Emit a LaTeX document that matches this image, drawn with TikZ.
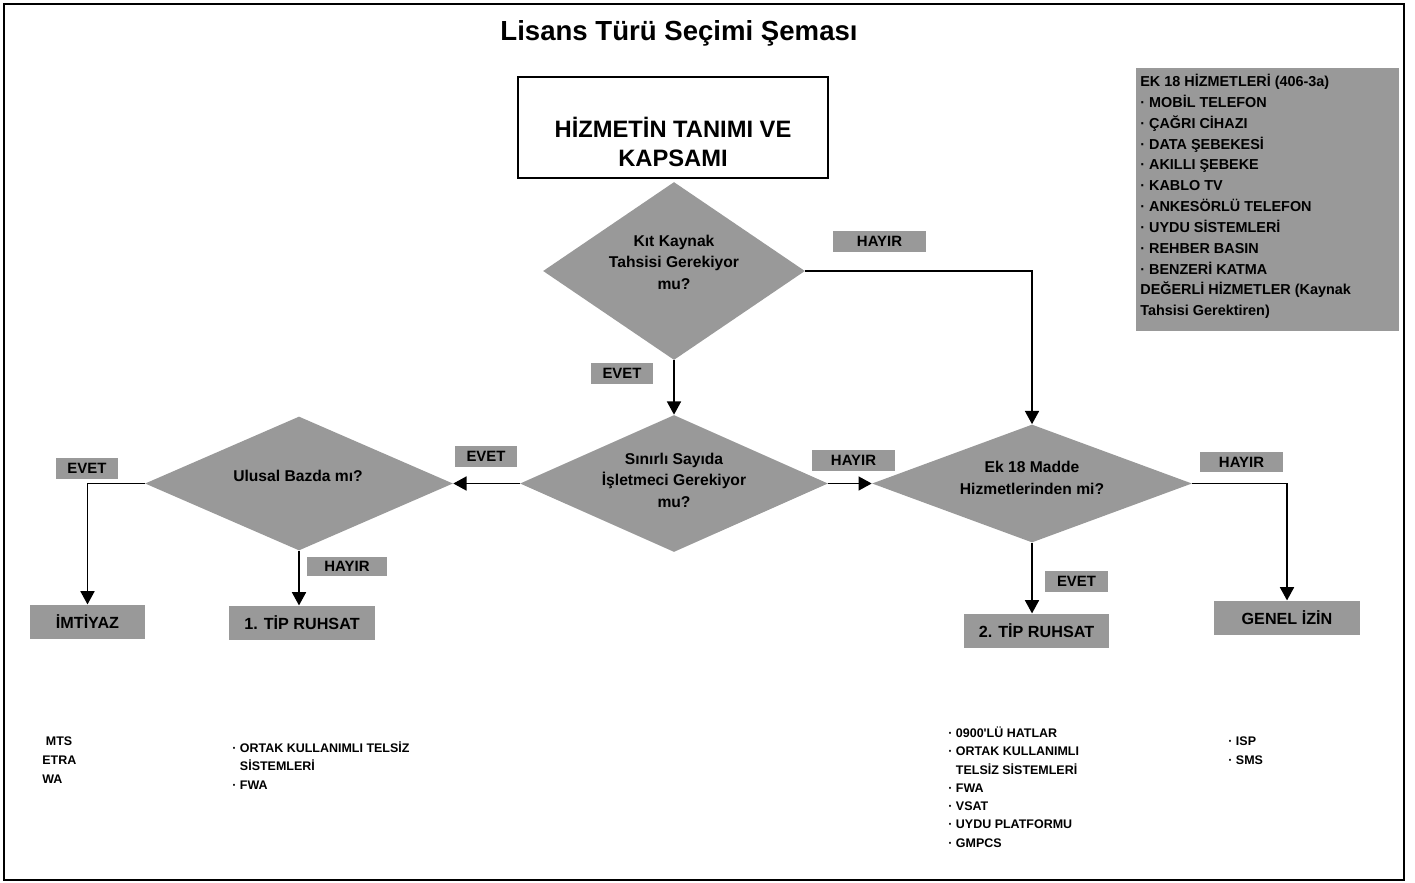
\documentclass[tikz,border=0pt]{standalone}
\usepackage{fontspec}
\setmainfont{Liberation Sans}
\usetikzlibrary{shapes.geometric,arrows.meta}
\definecolor{boxgray}{HTML}{999999}
\tikzset{
  decision/.style={diamond, fill=boxgray, inner sep=0pt},
  question/.style={align=center, inner sep=0pt, font=\fontsize{8.9}{12.2}\selectfont\bfseries},
  answer/.style={fill=boxgray, inner sep=0pt, minimum height=0.42cm, font=\fontsize{8.5}{10}\selectfont\bfseries},
  result/.style={fill=boxgray, inner sep=0pt, minimum height=0.69cm, font=\fontsize{9.2}{11}\selectfont\bfseries},
  itemlist/.style={anchor=north west, align=left, inner sep=0pt, font=\fontsize{7.1}{10.4}\selectfont\bfseries},
  flow/.style={line width=0.75pt},
  flowarrow/.style={flow, -{Triangle[width=8pt,length=7.5pt]}},
}
\begin{document}
\begin{tikzpicture}[x=0.02cm, y=-0.02cm]
  \useasboundingbox (0, 0) rectangle (1415, 882);
  \draw[line width=1.1pt] (4, 4) rectangle (1404, 880);

  \node[font=\fontsize{15.7}{18}\selectfont\bfseries] (title) at (679, 33) {Lisans Türü Seçimi Şeması};

  \node[draw, line width=0.8pt, minimum width=6.2cm, minimum height=2.02cm] (scope) at (673, 127.5) {};
  \node[align=center, inner sep=0pt, font=\fontsize{13.5}{17}\selectfont\bfseries] (scopetext) at (673, 142) {HİZMETİN TANIMI VE\\KAPSAMI};

  \node[decision, minimum width=5.24cm, minimum height=3.56cm] (kit) at (674, 271) {};
  \node[question] (kittext) at (674, 262) {Kıt Kaynak\\Tahsisi Gerekiyor\\mu?};
  \node[decision, minimum width=6.16cm, minimum height=2.74cm] (sinirli) at (674, 483.5) {};
  \node[question] (sinirlitext) at (674, 480) {Sınırlı Sayıda\\İşletmeci Gerekiyor\\mu?};
  \node[decision, minimum width=6.4cm, minimum height=2.36cm] (ek) at (1032, 483.5) {};
  \node[question] (ektext) at (1032, 478) {Ek 18 Madde\\Hizmetlerinden mi?};
  \node[decision, minimum width=6.16cm, minimum height=2.68cm] (ulusal) at (299, 483.5) {};
  \node[question] (ulusaltext) at (298, 476) {Ulusal Bazda mı?};

  \node[answer, minimum width=1.86cm] (kitno) at (879.5, 241.5) {HAYIR};
  \node[answer, minimum width=1.24cm] (kityes) at (622, 373) {EVET};
  \node[answer, minimum width=1.24cm] (sinirliyes) at (486, 456) {EVET};
  \node[answer, minimum width=1.66cm] (sinirlino) at (853.5, 460.5) {HAYIR};
  \node[answer, minimum width=1.24cm] (ulusalyes) at (87, 468.5) {EVET};
  \node[answer, minimum width=1.62cm, minimum height=0.38cm] (ulusalno) at (347, 566) {HAYIR};
  \node[answer, minimum width=1.26cm] (ekyes) at (1076.5, 581) {EVET};
  \node[answer, minimum width=1.66cm, minimum height=0.4cm] (ekno) at (1241.5, 462) {HAYIR};

  \node[result, minimum width=2.3cm] (imtiyaz) at (87.5, 622) {İMTİYAZ};
  \node[result, minimum width=2.92cm] (tip1) at (302, 623) {1. TİP RUHSAT};
  \node[result, minimum width=2.9cm] (tip2) at (1036.5, 631) {2. TİP RUHSAT};
  \node[result, minimum width=2.92cm] (genel) at (1287, 618) {GENEL İZİN};

  \node[fill=boxgray, minimum width=5.26cm, minimum height=5.26cm, inner sep=0pt] (ekpanel) at (1267.5, 199.5) {};
  \node[anchor=north west, align=left, inner sep=0pt, font=\fontsize{8.2}{11.85}\selectfont\bfseries] (ekpaneltext) at (1140, 74)
    {EK 18 HİZMETLERİ (406-3a)\\· MOBİL TELEFON\\· ÇAĞRI CİHAZI\\· DATA ŞEBEKESİ\\· AKILLI ŞEBEKE\\· KABLO TV\\· ANKESÖRLÜ TELEFON\\· UYDU SİSTEMLERİ\\· REHBER BASIN\\· BENZERİ KATMA\\DEĞERLİ HİZMETLER (Kaynak\\Tahsisi Gerektiren)};

  \node[itemlist, font=\fontsize{7.1}{10.8}\selectfont\bfseries] (imtiyazlist) at (42, 736.5) {\hspace{2pt}MTS\\ETRA\\WA};
  \node[itemlist] (tip1list) at (232, 741.5) {· ORTAK KULLANIMLI TELSİZ\\\phantom{· }SİSTEMLERİ\\· FWA};
  \node[itemlist] (tip2list) at (948, 726.5) {· 0900\textquotesingle LÜ HATLAR\\· ORTAK KULLANIMLI\\\phantom{· }TELSİZ SİSTEMLERİ\\· FWA\\· VSAT\\· UYDU PLATFORMU\\· GMPCS};
  \node[itemlist, font=\fontsize{7.1}{10.8}\selectfont\bfseries] (genellist) at (1228, 736.5) {· ISP\\· SMS};

  \draw[flowarrow] (kit.east) -| (ek.north);
  \draw[flowarrow] (kit.south) -- (sinirli.north);
  \draw[flowarrow] (sinirli.west) -- (ulusal.east);
  \draw[flowarrow] (sinirli.east) -- (ek.west);
  \draw[flowarrow] (ulusal.west) -| (imtiyaz.north);
  \draw[flowarrow] (ulusal.south) -- (ulusal.south |- tip1.north);
  \draw[flowarrow] (ek.south) -- (ek.south |- tip2.north);
  \draw[flowarrow] (ek.east) -| (genel.north);
\end{tikzpicture}
\end{document}
